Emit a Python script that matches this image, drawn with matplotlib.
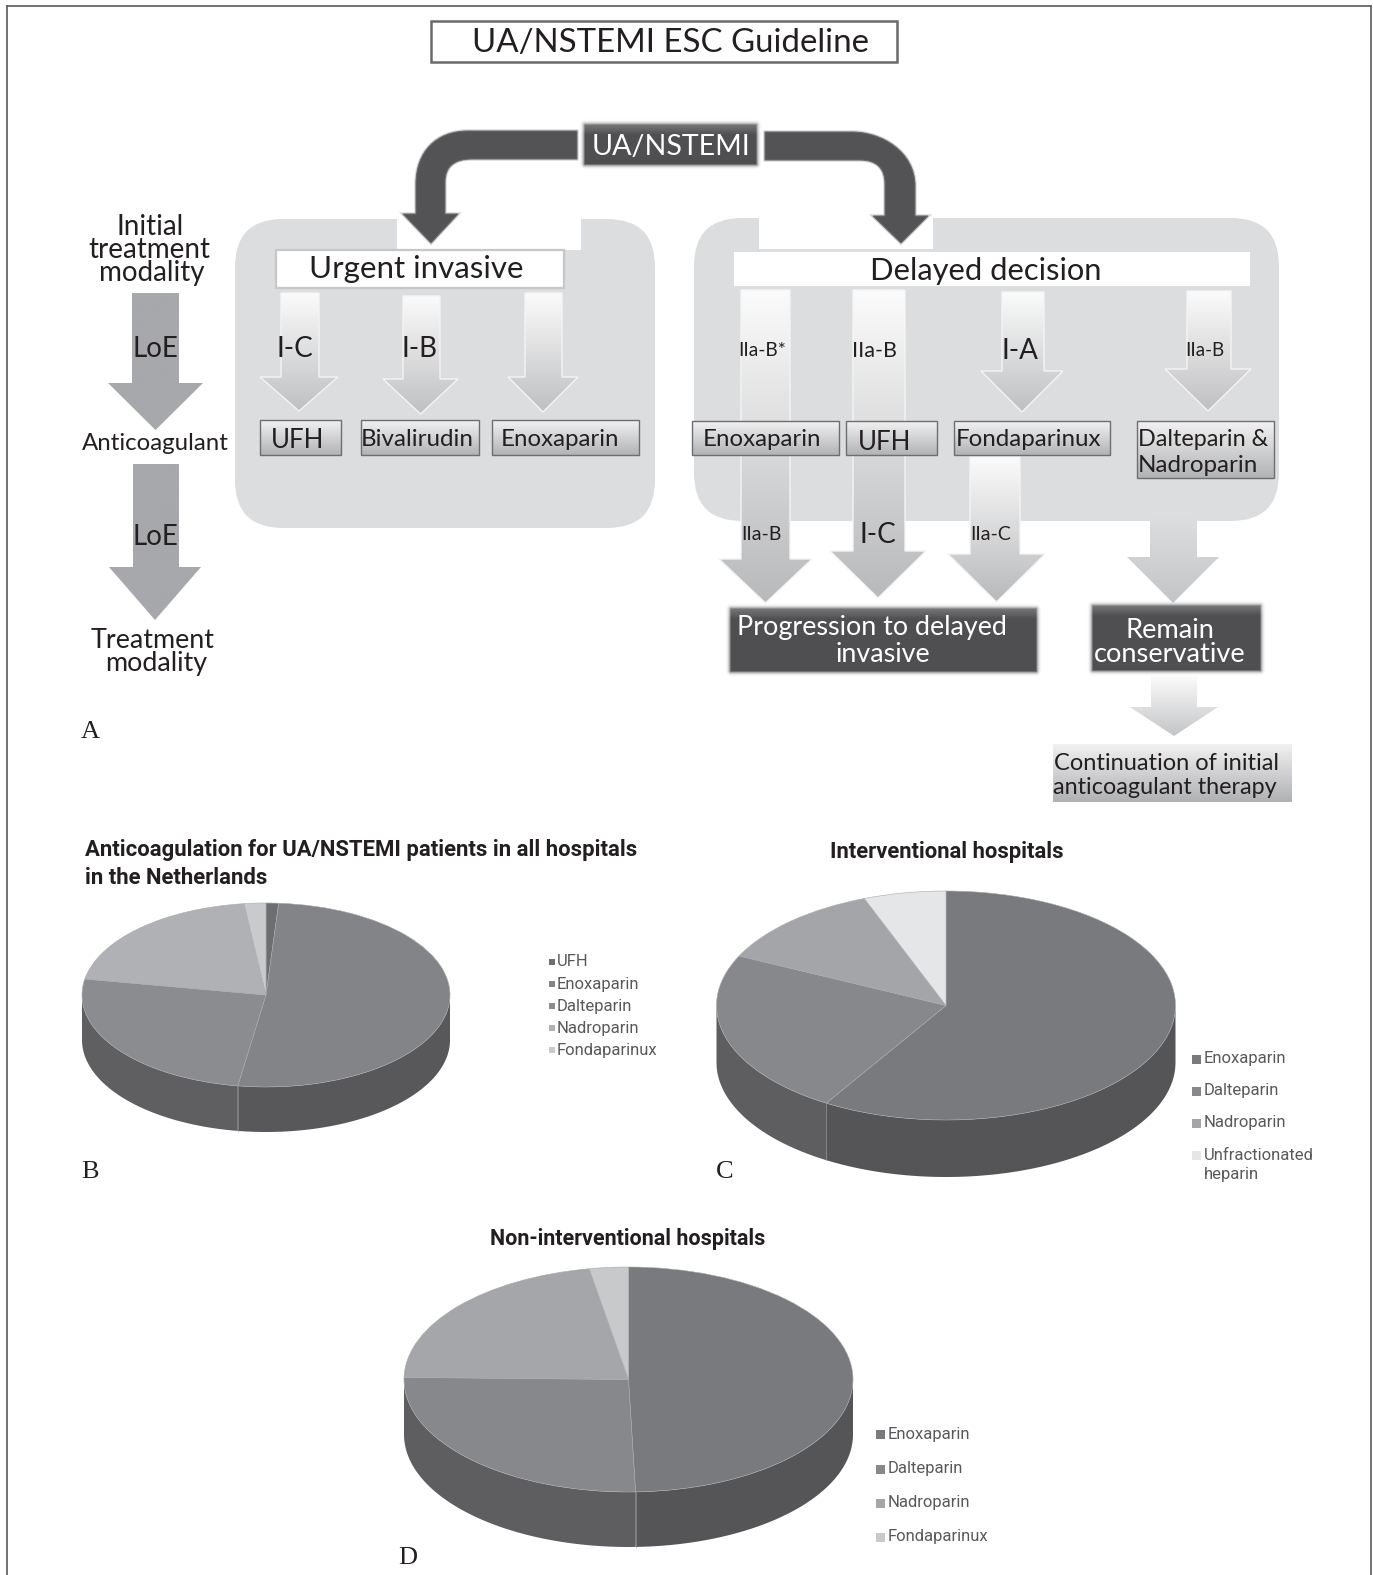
import numpy as np
import matplotlib
matplotlib.use("Agg")
from matplotlib import pyplot as plt
from matplotlib.colors import LinearSegmentedColormap
from matplotlib.patches import Rectangle, FancyBboxPatch, PathPatch
from matplotlib.path import Path

W, H = 1373, 1575

# pie data (percent of patients)
b_names = ["UFH", "Enoxaparin", "Dalteparin", "Nadroparin", "Fondaparinux"]
b_values = [1.1, 51.3, 25.3, 20.3, 1.9]
c_names = ["Enoxaparin", "Dalteparin", "Nadroparin", "Unfractionated\nheparin"]
c_values = [58.8, 23.4, 12.1, 5.8]
d_names = ["Enoxaparin", "Dalteparin", "Nadroparin", "Fondaparinux"]
d_values = [49.5, 25.8, 21.9, 2.8]

b_title = "Anticoagulation for UA/NSTEMI patients in all hospitals\nin the Netherlands"
c_title = "Interventional hospitals"
d_title = "Non-interventional hospitals"

b_colors = ["#6d6e71", "#838488", "#8b8c8f", "#b0b1b4", "#c9cacc"]
c_colors = ["#797a7e", "#87888b", "#a4a5a8", "#e5e6e7"]
d_colors = ["#797a7e", "#87888b", "#a5a6a9", "#c8c9cb"]
b_sides = ["#58585a", "#58585a", "#5f5f61", "#5f5f61", "#5f5f61"]
c_sides = ["#555557", "#5e5e60", "#5e5e60", "#5e5e60"]
d_sides = ["#555557", "#5e5e60", "#5e5e60", "#5e5e60"]

DIAGRAM = "Lato"
LEGEND = "Roboto"
INK = "#231f20"

fig = plt.figure(figsize=(W / 100, H / 100), dpi=100, facecolor="white")
ax = fig.add_axes([0, 0, 1, 1])
ax.set_xlim(0, W)
ax.set_ylim(H, 0)
ax.axis("off")
ax.autoscale(False)


def grad_fill(path, c_top, c_bot, y0, y1, z=2, edge=None):
    x = path.vertices[:, 0]
    cmap = LinearSegmentedColormap.from_list("g", [c_top, c_bot])
    im = ax.imshow(np.linspace(0, 1, 128)[:, None], cmap=cmap, aspect="auto",
                   extent=(x.min() - 1, x.max() + 1, y1, y0), zorder=z, vmin=0, vmax=1)
    im.set_clip_path(PathPatch(path, transform=ax.transData))
    if edge:
        ax.add_patch(PathPatch(path, fc="none", ec=edge, lw=1, zorder=z))


def down_arrow(x0, x1, top, neck, hx0, hx1, tip, c_top="#fbfbfb", c_bot="#bfc0c2", z=2, edge="#f4f4f5"):
    tipx = (hx0 + hx1) / 2
    pts = [(x0, top), (x1, top), (x1, neck), (hx1, neck), (tipx, tip), (hx0, neck), (x0, neck), (x0, top)]
    grad_fill(Path(pts, closed=True), c_top, c_bot, top, tip, z=z, edge=edge)


def grad_box(x0, y0, x1, y1, c_top="#f2f2f3", c_bot="#b2b3b5", edge="#6d6e71", z=4):
    pts = [(x0, y0), (x1, y0), (x1, y1), (x0, y1), (x0, y0)]
    grad_fill(Path(pts, closed=True), c_top, c_bot, y0, y1, z=z, edge=edge)


def dark_box(x0, y0, x1, y1, z=4, pad=7):
    # soft edged dark label: alpha falls off outside the box, lighter band along the top
    n_x, n_y = int(x1 - x0 + 2 * pad), int(y1 - y0 + 2 * pad)
    xs = np.arange(n_x) + 0.5 - pad
    ys = np.arange(n_y) + 0.5 - pad
    dx = np.maximum(np.maximum(-xs, xs - (x1 - x0)), 0)
    dy = np.maximum(np.maximum(-ys, ys - (y1 - y0)), 0)
    alpha = np.clip(1 - np.hypot(dx[None, :], dy[:, None]) / pad, 0, 1) ** 3
    shade = np.clip(ys / 10, 0, 1)[:, None] * np.ones((1, n_x))
    img = np.zeros((n_y, n_x, 4))
    for i, (a, b) in enumerate(zip((0.46, 0.46, 0.47), (0.31, 0.31, 0.32))):
        img[..., i] = a + (b - a) * shade
    img[..., 3] = alpha
    ax.imshow(img, extent=(x0 - pad, x1 + pad, y1 + pad, y0 - pad), aspect="auto", zorder=z)


def label(x, y, s, size, color=INK, family=DIAGRAM, **kw):
    ax.text(x, y, s, fontsize=size, color=color, family=family, ha=kw.pop("ha", "center"),
            va=kw.pop("va", "center"), zorder=6, **kw)


def pie3d(cx, cy, rx, ry, depth, values, colors, sides):
    a = fig.add_axes([(cx - rx) / W, 1 - (cy + ry + depth) / H, 2 * rx / W, (2 * ry + depth) / H])
    a.patch.set_visible(False)
    d = depth / ry
    bounds = np.concatenate([[0], np.cumsum(values)]) * 360 / np.sum(values)
    for i in range(len(values)):
        t0, t1 = max(bounds[i], 90), min(bounds[i + 1], 270)
        if t1 > t0:
            t = np.radians(np.linspace(t0, t1, 80))
            x, y = np.sin(t), np.cos(t)
            a.fill(np.r_[x, x[::-1]], np.r_[y, y[::-1] - d], color=sides[i], lw=0, clip_on=False)
    for t in bounds[1:-1]:
        if 90 < t < 270:
            s, c = np.sin(np.radians(t)), np.cos(np.radians(t))
            a.plot([s, s], [c, c - d], color="#8d8e90", lw=0.5, clip_on=False)
    a.pie(values, colors=colors, startangle=90, counterclock=False, radius=1,
          wedgeprops=dict(edgecolor="#a9aaac", lw=0.4, clip_on=False))
    a.set_aspect("auto")
    a.set_xlim(-1, 1)
    a.set_ylim(-1 - d, 1)


def legend(x_box, x_text, ys, names, colors, box, size):
    for y, name, col in zip(ys, names, colors):
        first = y - (10 if "\n" in name else 0)
        ax.add_patch(Rectangle((x_box, first - box / 2), box, box, fc=col, ec="none", zorder=5))
        ax.text(x_text, y, name, fontsize=size, family=LEGEND,
                color="#58595b", va="center", ha="left", linespacing=1.4, zorder=6)


# page frame
ax.plot([7, 7], [H, 6], color="#5a5a5c", lw=1.2, zorder=1)
ax.plot([7, 1371], [6, 6], color="#5a5a5c", lw=1.2, zorder=1)
ax.plot([1371, 1371], [6, H], color="#5a5a5c", lw=1.2, zorder=1)

# title
ax.add_patch(Rectangle((431, 21), 466, 41, fc="white", ec="#6a6a6c", lw=1.8, zorder=3))
label(671, 43, "UA/NSTEMI ESC Guideline", 23.8)

# grey panels with the white notch under the big arrows
ax.add_patch(FancyBboxPatch((235 + 48, 219 + 48), 420 - 96, 309 - 96, boxstyle="round,pad=48,rounding_size=48",
                            fc="#dcddde", ec="none", zorder=1))
ax.add_patch(FancyBboxPatch((694 + 48, 218 + 48), 585 - 96, 303 - 96, boxstyle="round,pad=48,rounding_size=48",
                            fc="#dcddde", ec="none", zorder=1))
ax.add_patch(Rectangle((397, 215), 184, 35, fc="white", ec="none", zorder=1.5))
ax.add_patch(Rectangle((759, 215), 174, 34, fc="white", ec="none", zorder=1.5))

# curved arrows from the top box
curve = [Path.MOVETO, Path.LINETO, Path.CURVE4, Path.CURVE4, Path.CURVE4, Path.LINETO, Path.LINETO, Path.LINETO,
         Path.LINETO, Path.LINETO, Path.LINETO, Path.CURVE3, Path.CURVE3, Path.LINETO, Path.CLOSEPOLY]
left = [(577, 131), (468, 131), (436, 131), (416, 152), (416, 184), (416, 214), (403, 214), (431, 243), (458, 214),
        (445, 214), (445, 182), (445, 159), (472, 159), (577, 159), (577, 131)]
right = [(765, 132), (852, 132), (882, 132), (915, 152), (915, 186), (915, 216), (928, 216), (901, 243), (873, 216),
         (885, 216), (885, 184), (885, 160), (860, 160), (765, 160), (765, 132)]
for shape in (left, right):
    ax.add_patch(PathPatch(Path(shape, curve), fc="none", ec="#a9aaac", lw=2.4, alpha=0.5, zorder=2.9))
    ax.add_patch(PathPatch(Path(shape, curve), fc="#535355", ec="#6a6a6c", lw=0.8, zorder=3))

dark_box(585, 125, 756, 164)
label(671, 147, "UA/NSTEMI", 20.6, color="white")

# treatment boxes, header bars
ax.add_patch(Rectangle((276, 250), 288, 38, fc="white", ec="#c6c7c9", lw=1.6, zorder=3))
label(416, 269, "Urgent invasive", 22.5)
ax.add_patch(Rectangle((734, 252), 516, 34, fc="white", ec="none", zorder=3))
label(986, 271, "Delayed decision", 22.2)

# left column
down_arrow(132, 179, 293, 383, 108, 203, 430, c_top="#a7a8ab", c_bot="#a7a8ab", edge=None)
down_arrow(133, 179, 464, 567, 109, 201, 620, c_top="#a7a8ab", c_bot="#a7a8ab", edge=None)
label(150, 227, "Initial", 20)
label(149, 250, "treatment", 20)
label(152, 273, "modality", 20)
label(155, 349, "LoE", 20)
label(155, 537, "LoE", 20)
label(155, 444, "Anticoagulant", 17.3)
label(153, 640, "Treatment", 19.4)
label(156, 663, "modality", 19.4)

# urgent invasive arrows
down_arrow(281, 319, 293, 377, 260, 338, 411)
down_arrow(403, 440, 296, 379, 383, 458, 414)
down_arrow(525, 562, 293, 377, 508, 578, 412)
label(295, 349, "I-C", 20)
label(420, 349, "I-B", 20)
grad_box(260, 420, 341, 455)
label(298, 440, "UFH", 18.6)
grad_box(361, 420, 479, 455)
label(417, 439, "Bivalirudin", 17.4)
grad_box(492, 420, 639, 455)
label(560, 439, "Enoxaparin", 17.3)

# delayed decision arrows
down_arrow(741, 790, 290, 559, 719, 812, 603, c_bot="#b8b9bb")
down_arrow(853, 905, 290, 551, 830, 926, 598, c_bot="#b8b9bb")
down_arrow(1002, 1044, 292, 371, 981, 1063, 412)
down_arrow(1187, 1231, 291, 369, 1165, 1251, 411)
down_arrow(970, 1020, 457, 554, 948, 1045, 602, c_bot="#b8b9bb")
down_arrow(1150, 1197, 518, 557, 1127, 1219, 603, c_top="#dcddde", c_bot="#c4c5c7", edge=None)
down_arrow(1151, 1197, 676, 707, 1130, 1218, 736, c_bot="#c4c5c7", edge=None)
label(762, 351, "IIa-B*", 13.8)
label(875, 351, "IIa-B", 15.5)
label(1020, 351, "I-A", 20)
label(1205, 351, "IIa-B", 13.5)
label(761, 534, "IIa-B", 14)
label(878, 535, "I-C", 20)
label(991, 534, "IIa-C", 14)
grad_box(692, 421, 839, 455)
label(762, 439, "Enoxaparin", 17.3)
grad_box(846, 421, 937, 455)
label(885, 442, "UFH", 18.6)
grad_box(954, 421, 1110, 455)
label(1029, 439, "Fondaparinux", 17.4)
grad_box(1137, 421, 1274, 478)
label(1203, 440, "Dalteparin &", 16.8)
label(1198, 466, "Nadroparin", 17.4)

# outcome boxes
dark_box(731, 609, 1036, 671)
label(872, 628, "Progression to delayed", 19.4, color="white")
label(883, 655, "invasive", 19.4, color="white")
dark_box(1093, 606, 1260, 670)
label(1170, 630, "Remain", 19.6, color="white")
label(1170, 655, "conservative", 19.6, color="white")
grad_box(1053, 744, 1292, 802, c_top="#f1f1f2", c_bot="#b0b1b3", edge=None)
label(1167, 763, "Continuation of initial", 17)
label(1165, 788, "anticoagulant therapy", 16.8)

# pies
pie3d(266, 995, 184, 92, 45, b_values, b_colors, b_sides)
pie3d(946, 1005.5, 229.5, 114.5, 57, c_values, c_colors, c_sides)
pie3d(628.5, 1379.5, 224.5, 112.5, 55, d_values, d_colors, d_sides)

ax.text(85, 864, b_title, fontsize=15.9, family=LEGEND, weight="bold", color=INK, ha="left", va="center",
        linespacing=1.3, zorder=6)
ax.text(947, 852, c_title, fontsize=15.8, family=LEGEND, weight="bold", color=INK, ha="center", va="center", zorder=6)
ax.text(628, 1239, d_title, fontsize=15.5, family=LEGEND, weight="bold", color=INK, ha="center", va="center", zorder=6)

legend(549, 557, [962, 984, 1006, 1028, 1050], b_names, b_colors, 6, 12)
legend(1192, 1204, [1059, 1091, 1123, 1165], c_names, c_colors, 9, 12)
legend(876, 888, [1434, 1469, 1503, 1537], d_names, d_colors, 9, 12)

# panel letters
for x, y, s in [(90, 732, "A"), (90, 1172, "B"), (725, 1172, "C"), (408, 1558, "D")]:
    ax.text(x, y, s, fontsize=19, family="Liberation Serif", color=INK, ha="center", va="center", zorder=6)

fig.savefig("out.png", dpi=100)
